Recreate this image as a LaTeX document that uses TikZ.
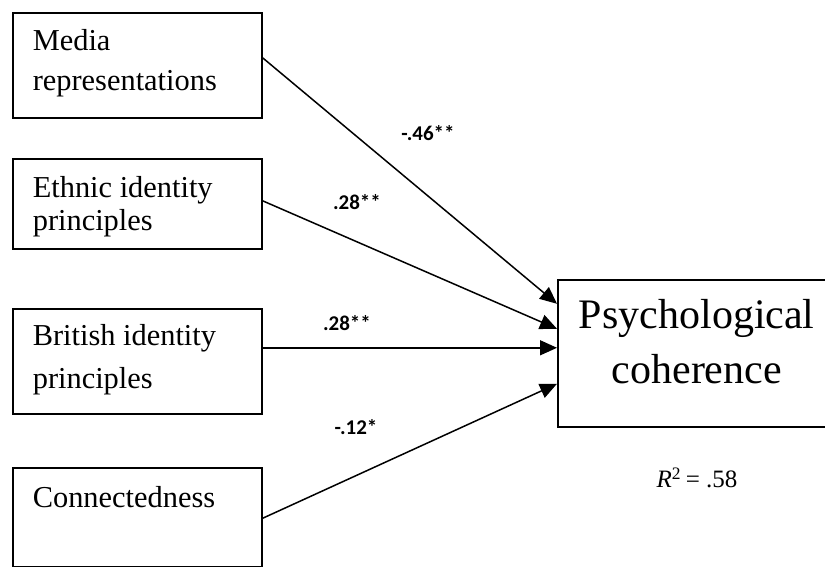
\documentclass[tikz,border=0pt]{standalone}
\usepackage{fontspec}
\setmainfont{Liberation Serif}
\newfontfamily\coeffont{Carlito}
\usetikzlibrary{arrows.meta}

\begin{document}
\begin{tikzpicture}[x=0.5pt, y=0.5pt,
  predictor/.style={draw, line width=0.8pt, anchor=north west, text width=104.5pt, inner xsep=10pt, inner ysep=0pt, align=flush left, font=\fontsize{15.2}{16.5}\selectfont},
  outcome/.style={draw, line width=0.8pt, anchor=north west, text width=139pt, inner sep=0pt, align=center, font=\fontsize{21}{27.5}\selectfont},
  coef/.style={font=\coeffont\bfseries\fontsize{10.5}{12}\selectfont},
  effect/.style={line width=0.75pt, -{Triangle[length=8.5pt, width=7.5pt]}}]
\useasboundingbox (0,0) rectangle (825,567);
% predictors
\node[predictor, text height=19pt, text depth=33.5pt] (media) at (12,555) {Media\\[3.5pt]representations};
\node[predictor, text height=19.5pt, text depth=25.5pt] (ethnic) at (12,409) {Ethnic identity\\principles};
\node[predictor, text height=18.5pt, text depth=34pt] (british) at (12,259) {British identity\\[5pt]principles};
\node[predictor, text height=20pt, text depth=29.5pt] (conn) at (12,100) {Connectedness};
% outcome
\node[outcome, text height=24.5pt, text depth=49pt] (psych) at (557,288) {Psychological\\coherence};
\node[font=\fontsize{12.5}{15}\selectfont, anchor=base] (rsq) at (697,79) {\textit{R}\textsuperscript{2}\,= .58};
% paths
\draw[effect] ([yshift=3.75pt]media.east) -- ([yshift=24.75pt]psych.west);
\draw[effect] ([yshift=1.5pt]ethnic.east) -- ([yshift=12.25pt]psych.west);
\draw[effect] ([yshift=6.75pt]british.east) -- ([yshift=6.75pt]british.east -| psych.west);
\draw[effect] ([yshift=-0.5pt]conn.east) -- ([yshift=-15.25pt]psych.west);
% coefficients
\node[coef] (c1) at (428,434) {-.46**};
\node[coef] (c2) at (357,365) {.28**};
\node[coef] (c3) at (347,244) {.28**};
\node[coef] (c4) at (356,140) {-.12*};
\end{tikzpicture}
\end{document}
